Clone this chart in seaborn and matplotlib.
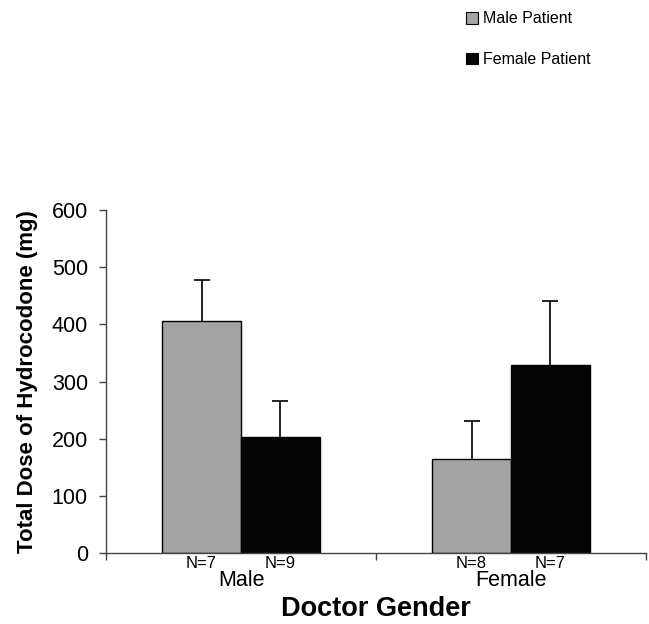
import numpy as np
import pandas as pd
import matplotlib
matplotlib.use('Agg')
import matplotlib.pyplot as plt
import seaborn as sns

doctor_gender = ['Male', 'Female']
patient_groups = ['Male Patient', 'Female Patient']
male_patient_dose = [405, 164]
male_patient_sem = [73, 67]
female_patient_dose = [203, 329]
female_patient_sem = [63, 112]
male_patient_n = [7, 8]
female_patient_n = [9, 7]
y_ticks = [0, 100, 200, 300, 400, 500, 600]

df = pd.DataFrame({
    'Doctor': doctor_gender * 2,
    'Patient': [patient_groups[0]] * 2 + [patient_groups[1]] * 2,
    'Dose': male_patient_dose + female_patient_dose,
    'SEM': male_patient_sem + female_patient_sem,
    'N': male_patient_n + female_patient_n,
})

sns.set_style('ticks')
plt.rcParams['font.family'] = ['Liberation Sans', 'DejaVu Sans']
plt.rcParams['text.color'] = 'black'
plt.rcParams['xtick.labelcolor'] = 'black'
plt.rcParams['ytick.labelcolor'] = 'black'
plt.rcParams['axes.labelcolor'] = 'black'

fig = plt.figure(figsize=(6.49, 6.24), dpi=100)
ax = fig.add_axes([106 / 649, 71 / 624, 540 / 649, 343 / 624])

palette = {'Male Patient': '#a3a3a3', 'Female Patient': '#050505'}
sns.barplot(data=df, x='Doctor', y='Dose', hue='Patient', order=doctor_gender,
            hue_order=patient_groups, palette=palette, width=0.585,
            edgecolor='black', linewidth=1.0, errorbar=None, ax=ax)

# upper-only error bars and N labels, taken from the drawn bars
bars = [p for p in ax.patches if p.get_height() > 0]
for p, r in zip(bars, df.itertuples()):
    xc = p.get_x() + p.get_width() / 2
    eb = ax.errorbar(xc, r.Dose, yerr=[[0], [r.SEM]], fmt='none', ecolor='black',
                     elinewidth=1.2, capsize=6, capthick=1.2)
    eb[1][0].set_visible(False)
    ax.text(xc, -0.008, f'N={r.N}', transform=ax.get_xaxis_transform(),
            ha='center', va='top', fontsize=12)

ax.set_xlim(-0.5, 1.5)
ax.set_ylim(0, 600)
ax.set_yticks(y_ticks)
ax.tick_params(axis='y', labelsize=15.5, length=5, width=1, direction='out',
               pad=8, color='#444444')
ax.set_xticks([0, 1])
ax.set_xticklabels(doctor_gender, fontsize=15.5)
ax.tick_params(axis='x', length=0, pad=12)
ax.set_xticks([-0.5, 0.5, 1.5], minor=True)
ax.tick_params(axis='x', which='minor', length=5, width=1, direction='out',
               color='#444444')

ax.set_xlabel('Doctor Gender', fontsize=19.5, fontweight='bold', labelpad=4)
ax.set_ylabel('Total Dose of Hydrocodone (mg)', fontsize=16, fontweight='bold',
              labelpad=10)

sns.despine(ax=ax)
for side in ['left', 'bottom']:
    ax.spines[side].set_color('#444444')
    ax.spines[side].set_linewidth(1.0)

ax.legend_.remove()
handles = [plt.Rectangle((0, 0), 1, 1, facecolor=palette[g], edgecolor='black',
                         linewidth=0.8) for g in patient_groups]
fig.legend(handles, patient_groups, loc='upper left',
           bbox_to_anchor=(452 / 649, 1 + 3 / 624), frameon=False,
           fontsize=11.5, handlelength=0.75, handleheight=0.75,
           handletextpad=0.3, labelspacing=1.6)

fig.savefig('out.png', dpi=100)
